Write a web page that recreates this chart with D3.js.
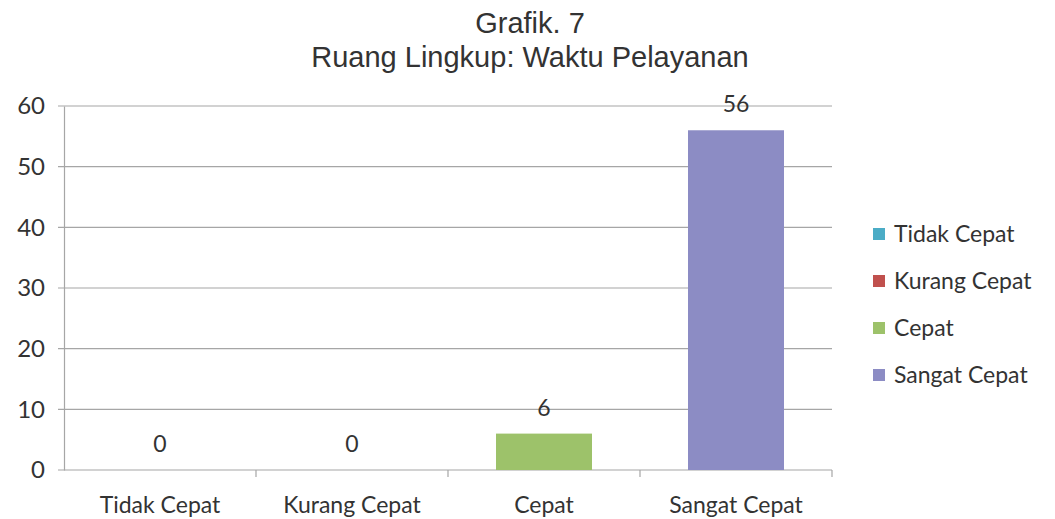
<!DOCTYPE html>
<html>
<head>
<meta charset="utf-8">
<script src="https://cdn.jsdelivr.net/npm/d3@7"></script>
<style>
  body { margin: 0; background: #fff; }
  svg text { fill: #333; }
</style>
</head>
<body>
<div id="chart"></div>
<script>
const categories = ["Tidak Cepat", "Kurang Cepat", "Cepat", "Sangat Cepat"];
const values = [0, 0, 6, 56];
const colors = ["#4bacc6", "#c0504d", "#9dc26a", "#8c8cc4"];
const yTickValues = [0, 10, 20, 30, 40, 50, 60];
const titleLines = ["Grafik. 7", "Ruang Lingkup: Waktu Pelayanan"];

const width = 1055, height = 519;
const plotLeft = 64, plotRight = 832, plotTop = 106, plotBottom = 470;

const svg = d3.select('#chart').append('svg')
    .attr('width', width)
    .attr('height', height);

// judul
svg.selectAll('text.title')
    .data(titleLines)
    .enter().append('text')
        .attr('class', 'title')
        .attr('x', 530)
        .attr('y', (d, i) => 33 + i * 34)
        .attr('text-anchor', 'middle')
        .style('font-family', 'Liberation Sans, Arial, sans-serif')
        .style('font-size', '29px')
        .text(d => d);

const x = d3.scaleBand()
    .domain(categories)
    .range([plotLeft, plotRight])
    .paddingInner(0)
    .paddingOuter(0);

const y = d3.scaleLinear()
    .domain([0, 60])
    .range([plotBottom, plotTop]);

// gridlines
svg.append('g')
    .selectAll('line')
    .data(yTickValues)
    .enter().append('line')
        .attr('x1', plotLeft - 6)
        .attr('x2', plotRight)
        .attr('y1', d => y(d))
        .attr('y2', d => y(d))
        .attr('stroke', '#a6a6a6')
        .attr('stroke-width', 1.2);

// y axis
const yAxis = d3.axisLeft(y).tickValues(yTickValues).tickSize(0).tickPadding(19);
const gy = svg.append('g')
    .attr('transform', `translate(${plotLeft},0)`)
    .call(yAxis);
gy.select('.domain').attr('stroke', '#a6a6a6').attr('stroke-width', 1.2);
gy.selectAll('text')
    .style('font-family', 'Lato, Open Sans, sans-serif')
    .style('font-size', '24px')
    .attr('fill', '#333');

// x axis
const xAxis = d3.axisBottom(x).tickSize(0).tickPadding(27);
const gx = svg.append('g')
    .attr('transform', `translate(0,${plotBottom})`)
    .call(xAxis);
gx.select('.domain').remove();
gx.selectAll('text')
    .style('font-family', 'Lato, Open Sans, sans-serif')
    .style('font-size', '23px')
    .attr('fill', '#333');

// category boundary ticks
gx.selectAll('line.sep')
    .data(categories)
    .enter().append('line')
        .attr('class', 'sep')
        .attr('x1', d => x(d) + x.bandwidth())
        .attr('x2', d => x(d) + x.bandwidth())
        .attr('y1', 0)
        .attr('y2', 7)
        .attr('stroke', '#a6a6a6')
        .attr('stroke-width', 1.2);

// bars
const barW = x.bandwidth() * 0.5;
svg.append('g')
    .selectAll('rect')
    .data(values)
    .enter().append('rect')
        .attr('x', (d, i) => x(categories[i]) + (x.bandwidth() - barW) / 2)
        .attr('y', d => y(d))
        .attr('width', barW)
        .attr('height', d => plotBottom - y(d))
        .attr('fill', (d, i) => colors[i]);

// data labels
svg.append('g')
    .selectAll('text')
    .data(values)
    .enter().append('text')
        .attr('x', (d, i) => x(categories[i]) + x.bandwidth() / 2)
        .attr('y', d => y(d) - 26)
        .attr('text-anchor', 'middle')
        .attr('dy', '0.35em')
        .style('font-family', 'Lato, Open Sans, sans-serif')
        .style('font-size', '23px')
        .text(d => d);

// legend
const legend = svg.append('g')
    .selectAll('g')
    .data(categories)
    .enter().append('g')
        .attr('transform', (d, i) => `translate(873,${234 + i * 47})`);
legend.append('rect')
    .attr('x', 0)
    .attr('y', -6)
    .attr('width', 12)
    .attr('height', 12)
    .attr('fill', (d, i) => colors[i]);
legend.append('text')
    .attr('x', 21)
    .attr('dy', '0.35em')
    .style('font-family', 'Lato, Open Sans, sans-serif')
    .style('font-size', '23px')
    .text(d => d);
</script>
</body>
</html>
